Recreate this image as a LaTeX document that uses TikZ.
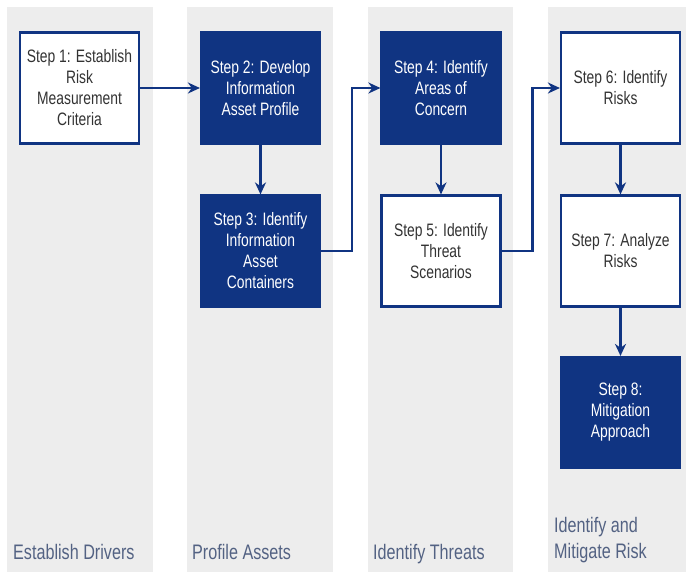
\documentclass[tikz,border=0pt]{standalone}
\usepackage{fontspec}
\setmainfont[FakeStretch=0.77]{Liberation Sans}
\usepackage{tikz}
\usetikzlibrary{arrows.meta}
\definecolor{navy}{RGB}{16,52,130}
\definecolor{lane}{RGB}{237,237,237}
\newcommand{\boxfont}{\fontsize{18}{21}\selectfont}
\newcommand{\lanefont}{\fontsize{21}{26}\selectfont}

\begin{document}
\begin{tikzpicture}[x=1pt, y=-1pt,
    stepbox/.style={draw=navy, line width=2.2pt, fill=white, text=black!80, align=center,
      minimum width=119pt, minimum height=111pt, inner sep=2pt, font=\boxfont},
    darkbox/.style={stepbox, fill=navy, text=white},
    flow/.style={draw=navy, line width=2.4pt, -{Stealth[length=12pt,width=11pt]}},
    lanelabel/.style={inner sep=0pt, align=left, font=\lanefont, text=navy!60!black!70}]
          \useasboundingbox[fill=white] (0,0) rectangle (686,574);

          \fill[lane] (7,7) rectangle (153,572);
          \fill[lane] (187,7) rectangle (333,572);
          \fill[lane] (368,7) rectangle (513,572);
          \fill[lane] (548,7) rectangle (686,572);

          \node[stepbox] (s1) at (79.5,88)  {Step 1: Establish\\Risk\\Measurement\\Criteria};
          \node[darkbox] (s2) at (260.5,88) {Step 2: Develop\\Information\\Asset Profile};
          \node[darkbox] (s3) at (260.5,251) {Step 3: Identify\\Information\\Asset\\Containers};
          \node[darkbox] (s4) at (441,88) {Step 4: Identify\\Areas of\\Concern};
          \node[stepbox] (s5) at (441,251) {Step 5: Identify\\Threat\\Scenarios};
          \node[stepbox] (s6) at (620.5,88) {Step 6: Identify\\Risks};
          \node[stepbox] (s7) at (620.5,251) {Step 7: Analyze\\Risks};
          \node[darkbox] (s8) at (620.5,412.5) {Step 8:\\Mitigation\\Approach};

          \draw[flow] (s1) -- (s2);
          \draw[flow] (s2) -- (s3);
          \draw[flow] (s3.east) -- ++(31,0) |- (s4.west);
          \draw[flow] (s4) -- (s5);
          \draw[flow] (s5.east) -- ++(31,0) |- (s6.west);
          \draw[flow] (s6) -- (s7);
          \draw[flow] (s7) -- (s8);

          \node[lanelabel, anchor=base west] (l1) at (13,559) {Establish Drivers};
          \node[lanelabel, anchor=base west] (l2) at (192,559) {Profile Assets};
          \node[lanelabel, anchor=base west] (l3) at (373,559) {Identify Threats};
          \node[lanelabel, anchor=south west] (l4) at (554,563.5) {Identify and\\Mitigate Risk};
        \end{tikzpicture}
\end{document}
